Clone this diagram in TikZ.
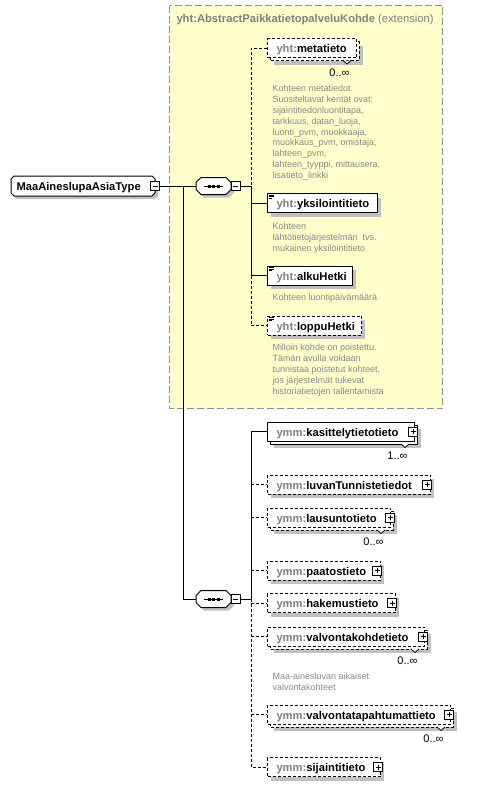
\documentclass[tikz,border=0pt]{standalone}
\usepackage{fontspec}
\setmainfont{Liberation Sans}
\definecolor{yel}{HTML}{FFFFCC}
\definecolor{shad}{HTML}{C0C0C0}
\definecolor{pfx}{HTML}{808080}
\definecolor{dsc}{HTML}{888888}
\definecolor{ybord}{HTML}{909090}
% octagon outline: [style]{x1}{y1}{x2}{y2}{chamfer}
\newcommand\octa[6][]{\path[#1] (#2+#6,#3) -- (#4-#6,#3) -- (#4,#3+#6) -- (#4,#5-#6) -- (#4-#6,#5) -- (#2+#6,#5) -- (#2,#5-#6) -- (#2,#3+#6) -- cycle;}
\newcommand\minusb[3]{\node[pm] (#1) at (#2,#3) {}; \draw[line width=0.8pt] (#2-2.5,#3) -- (#2+2.5,#3);}
\newcommand\plusb[3]{\node[pm] (#1) at (#2,#3) {}; \draw[line width=0.8pt] (#2-2.5,#3) -- (#2+2.5,#3) (#2,#3-2.5) -- (#2,#3+2.5);}
\newcommand\seqicon[2]{\draw[line width=1pt] (#1-9.5,#2) -- (#1+9.5,#2);
  \foreach \dx in {-4.5,0,4.5} \fill (#1+\dx-1.5,#2-1.5) rectangle (#1+\dx+1.5,#2+1.5);}
\newcommand\elicon[1]{\draw[line width=0.6pt] (268.5,#1+1.5) -- (273.5,#1+1.5) (268.5,#1+3) -- (273.5,#1+3) (268.5,#1+4.5) -- (272,#1+4.5);}
% single element: id, y, right, style, prefix, name
\newcommand\elS[6]{%
  \fill[shad] (271,#2-5.5) rectangle (#3+4,#2+13.5);
  \node[box,#4,minimum width={#3pt-267pt}] (#1) at (267,#2) {};
  \node[nm] (#1-t) at (276,#2+4.5) {\textcolor{pfx}{#5:}#6};}
% repeated element: id, y, front right, style, prefix, name, multiplicity
\newcommand\elM[7]{%
  \fill[shad] (274,#2-2.5) rectangle (#3+7,#2+16.5);
  \draw[#4,fill=white] (270,#2-6.5) rectangle (#3+3,#2+12.5);
  \draw[line width=0.8pt,fill=white] (#3-13,#2+12.5) -- (#3-9,#2+16) -- (#3-5,#2+12.5);
  \node[box,#4,minimum width={#3pt-267pt}] (#1) at (267,#2) {};
  \node[nm] (#1-t) at (276,#2+4.5) {\textcolor{pfx}{#5:}#6};
  \node[mult] (#1-m) at (#3-6,#2+28) {#7};}
\begin{document}
\begin{tikzpicture}[x=1pt,y=-1pt,line width=1pt,
  dsh/.style={dash pattern=on 3pt off 2pt},
  box/.style={draw=black,fill=white,inner sep=0pt,minimum height=19pt,anchor=west},
  nm/.style={font=\fontsize{11.2}{13}\selectfont\bfseries,inner sep=0pt,anchor=base west},
  mult/.style={font=\fontsize{11}{13}\selectfont,inner sep=0pt,anchor=base east},
  desc/.style={font=\fontsize{9}{11}\selectfont,text=dsc,inner sep=0pt,anchor=base west},
  pm/.style={draw=black,fill=white,line width=0.8pt,minimum size=9pt,inner sep=0pt},
  hub/.style={inner sep=0pt,minimum width=35pt,minimum height=17pt}]
\useasboundingbox (0,0) rectangle (485,787);
% extension container
\draw[draw=ybord,fill=yel,dash pattern=on 7pt off 3pt] (169.5,5.5) rectangle (442.5,408.5);
\node[anchor=base west,inner sep=0pt,font=\fontsize{11.2}{13}\selectfont,text=pfx] (title) at (176,23) {\textbf{yht:AbstractPaikkatietopalveluKohde} (extension)};
% type node
\octa[fill=shad]{14}{179}{158}{199}{3}
\octa[draw=black,fill=white]{11}{176}{155}{196}{3}
\node[inner sep=0pt,minimum width=144pt,minimum height=20pt] (type) at (83,186) {};
\node[nm] (type-t) at (16,190) {MaaAineslupaAsiaType};
\minusb{typem}{155}{186}
% sequences
\octa[fill=shad]{199}{180.5}{234}{197.5}{5}
\octa[draw=black,fill=white]{196}{177.5}{231}{194.5}{5}
\node[hub] (seq1) at (213.5,186) {};
\seqicon{213.5}{186}
\minusb{seq1m}{235.5}{186}
\octa[fill=shad]{199}{593.5}{234}{610.5}{5}
\octa[draw=black,fill=white]{196}{590.5}{231}{607.5}{5}
\node[hub] (seq2) at (213.5,599) {};
\seqicon{213.5}{599}
\minusb{seq2m}{235.5}{599}
\coordinate (j1) at (183,186);
\coordinate (bus1) at (251,186);
\coordinate (bus2) at (251,599);
\draw (typem.east) -- (seq1.west);
\draw (j1) |- (seq2.west);
\draw (seq1m.east) -- (bus1);
\draw (seq2m.east) -- (bus2);
% group 1 elements
\elM{meta}{48}{356}{dsh}{yht}{metatieto}{0..∞}
\elS{yksi}{203}{377}{}{yht}{yksilointitieto}
\elicon{193.5}
\elS{alku}{275.5}{352}{}{yht}{alkuHetki}
\elicon{266}
\elS{loppu}{325.5}{361}{dsh}{yht}{loppuHetki}
\elicon{316}
\draw[dsh] (meta.west) -| (bus1);
\draw (bus1) |- (yksi.west);
\draw (bus1) |- (alku.west);
\draw[dsh] (alku.west -| bus1) |- (loppu.west);
% descriptions group 1
\node[desc,font=\fontsize{9}{10.85}\selectfont] (d-meta) at (272,91.6) {\begin{tabular}[t]{@{}l@{}}Kohteen metatiedot.\\Suositeltavat kentät ovat:\\sijaintitiedonluontitapa,\\tarkkuus, datan\_luoja,\\luonti\_pvm, muokkaaja,\\muokkaus\_pvm, omistaja,\\lahteen\_pvm,\\lahteen\_tyyppi, mittausera,\\lisatieto\_linkki\end{tabular}};
\node[desc] (d-yksi) at (272,229.3) {\begin{tabular}[t]{@{}l@{}}Kohteen\\lähtötietojärjestelmän\ \ tvs.\\mukainen yksilöintitieto\end{tabular}};
\node[desc] (d-alku) at (272,300.6) {Kohteen luontipäivämäärä};
\node[desc] (d-loppu) at (272,350) {\begin{tabular}[t]{@{}l@{}}Milloin kohde on poistettu.\\Tämän avulla voidaan\\tunnistaa poistetut kohteet,\\jos järjestelmät tukevat\\historiatietojen tallentamista\end{tabular}};
% group 2 elements
\elM{kas}{431.5}{414}{}{ymm}{kasittelytietotieto}{1..∞}
\plusb{kas-p}{413}{431.5}
\elS{luvan}{484.5}{430}{dsh}{ymm}{luvanTunnistetiedot}
\plusb{luvan-p}{427}{484.5}
\elM{laus}{517.5}{390}{dsh}{ymm}{lausuntotieto}{0..∞}
\plusb{laus-p}{390}{517.5}
\elS{paat}{570.5}{380}{dsh}{ymm}{paatostieto}
\plusb{paat-p}{377}{570.5}
\elS{hak}{603}{395}{dsh}{ymm}{hakemustieto}
\plusb{hak-p}{392}{603}
\elM{vk}{636.5}{424}{dsh}{ymm}{valvontakohdetieto}{0..∞}
\plusb{vk-p}{423}{636.5}
\node[desc] (d-vk) at (272,679) {\begin{tabular}[t]{@{}l@{}}Maa-ainesluvan aikaiset\\valvontakohteet\end{tabular}};
\elM{vt}{714.5}{450}{dsh}{ymm}{valvontatapahtumattieto}{0..∞}
\plusb{vt-p}{449}{714.5}
\elS{sij}{767}{380}{dsh}{ymm}{sijaintitieto}
\plusb{sij-p}{378}{767}
\draw (bus2) |- (kas.west);
\draw[dsh] (luvan.west -| bus2) -- (luvan.west);
\draw[dsh] (laus.west -| bus2) -- (laus.west);
\draw[dsh] (paat.west -| bus2) -- (paat.west);
\draw[dsh] (bus2) |- (sij.west);
\draw[dsh] (hak.west -| bus2) -- (hak.west);
\draw[dsh] (vk.west -| bus2) -- (vk.west);
\draw[dsh] (vt.west -| bus2) -- (vt.west);
\end{tikzpicture}
\end{document}
